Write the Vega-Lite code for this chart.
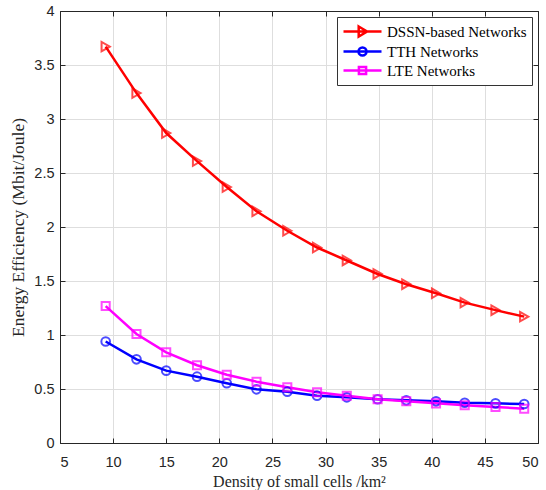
{
  "$schema": "https://vega.github.io/schema/vega-lite/v6.json",
  "autosize": "none",
  "width": 478,
  "height": 432,
  "padding": {"left": 60, "top": 11, "right": 8, "bottom": 47},
  "background": "white",
  "config": {
    "view": {"stroke": "#262626", "strokeWidth": 1},
    "axis": {
      "labelFont": "Liberation Sans",
      "labelFontSize": 14.5,
      "labelColor": "#262626",
      "titleFont": "Liberation Serif",
      "titleFontSize": 16,
      "titleFontWeight": "normal",
      "titleColor": "#262626",
      "gridColor": "#dedede",
      "gridWidth": 1,
      "domainColor": "#262626",
      "tickColor": "#262626",
      "tickSize": -5
    }
  },
  "data": {
    "values": [
      {"series": "DSSN-based Networks", "x": 9.3, "y": 3.67},
      {"series": "DSSN-based Networks", "x": 12.2, "y": 3.24},
      {"series": "DSSN-based Networks", "x": 15.0, "y": 2.87},
      {"series": "DSSN-based Networks", "x": 17.9, "y": 2.61},
      {"series": "DSSN-based Networks", "x": 20.7, "y": 2.37},
      {"series": "DSSN-based Networks", "x": 23.5, "y": 2.145},
      {"series": "DSSN-based Networks", "x": 26.4, "y": 1.965},
      {"series": "DSSN-based Networks", "x": 29.2, "y": 1.81},
      {"series": "DSSN-based Networks", "x": 32.0, "y": 1.69},
      {"series": "DSSN-based Networks", "x": 34.9, "y": 1.565},
      {"series": "DSSN-based Networks", "x": 37.6, "y": 1.47},
      {"series": "DSSN-based Networks", "x": 40.4, "y": 1.386},
      {"series": "DSSN-based Networks", "x": 43.1, "y": 1.30},
      {"series": "DSSN-based Networks", "x": 46.0, "y": 1.23},
      {"series": "DSSN-based Networks", "x": 48.7, "y": 1.17},
      {"series": "TTH Networks", "x": 9.3, "y": 0.94},
      {"series": "TTH Networks", "x": 12.2, "y": 0.775},
      {"series": "TTH Networks", "x": 15.0, "y": 0.67},
      {"series": "TTH Networks", "x": 17.9, "y": 0.614},
      {"series": "TTH Networks", "x": 20.7, "y": 0.553},
      {"series": "TTH Networks", "x": 23.5, "y": 0.497},
      {"series": "TTH Networks", "x": 26.4, "y": 0.475},
      {"series": "TTH Networks", "x": 29.2, "y": 0.438},
      {"series": "TTH Networks", "x": 32.0, "y": 0.423},
      {"series": "TTH Networks", "x": 34.9, "y": 0.405},
      {"series": "TTH Networks", "x": 37.6, "y": 0.395},
      {"series": "TTH Networks", "x": 40.4, "y": 0.386},
      {"series": "TTH Networks", "x": 43.1, "y": 0.373},
      {"series": "TTH Networks", "x": 46.0, "y": 0.367},
      {"series": "TTH Networks", "x": 48.7, "y": 0.361},
      {"series": "LTE Networks", "x": 9.3, "y": 1.268},
      {"series": "LTE Networks", "x": 12.2, "y": 1.009},
      {"series": "LTE Networks", "x": 15.0, "y": 0.84},
      {"series": "LTE Networks", "x": 17.9, "y": 0.72},
      {"series": "LTE Networks", "x": 20.7, "y": 0.632},
      {"series": "LTE Networks", "x": 23.5, "y": 0.568},
      {"series": "LTE Networks", "x": 26.4, "y": 0.516},
      {"series": "LTE Networks", "x": 29.2, "y": 0.47},
      {"series": "LTE Networks", "x": 32.0, "y": 0.438},
      {"series": "LTE Networks", "x": 34.9, "y": 0.405},
      {"series": "LTE Networks", "x": 37.6, "y": 0.386},
      {"series": "LTE Networks", "x": 40.4, "y": 0.367},
      {"series": "LTE Networks", "x": 43.1, "y": 0.349},
      {"series": "LTE Networks", "x": 46.0, "y": 0.333},
      {"series": "LTE Networks", "x": 48.7, "y": 0.318}
    ]
  },
  "layer": [
    {
      "mark": {"type": "line", "strokeWidth": 2.5},
      "encoding": {
        "x": {"field": "x", "type": "quantitative", "scale": {"domain": [5, 50], "nice": false, "zero": false},
              "axis": {"values": [5,10,15,20,25,30,35,40,45,50], "title": "Density of small cells /km²", "labelPadding": 17, "titlePadding": 5, "grid": true}},
        "y": {"field": "y", "type": "quantitative", "scale": {"domain": [0, 4], "nice": false},
              "axis": {"values": [0,0.5,1,1.5,2,2.5,3,3.5,4], "format": "~g", "title": "Energy Efficiency (Mbit/Joule)", "titleFontSize": 17.5, "labelPadding": 11, "titlePadding": 6, "grid": true}},
        "color": {"field": "series", "type": "nominal",
                  "scale": {"domain": ["DSSN-based Networks", "TTH Networks", "LTE Networks"], "range": ["#ff0000", "#0000ff", "#ff00ff"]},
                  "legend": {
                    "title": null, "orient": "top-right", "offset": 6,
                    "symbolSize": 256, "symbolStrokeWidth": 2.5,
                    "labelFont": "Liberation Serif", "labelFontSize": 15, "labelColor": "#000",
                    "strokeColor": "#333333", "fillColor": "white", "padding": 5, "rowPadding": 0, "labelOffset": 26,
                    "encode": {"symbols": {"update": {
                      "shape": {"signal": "datum.value === 'DSSN-based Networks' ? 'M-1,0H3.75M0.9,-0.62L1.95,0L0.9,0.62Z' : (datum.value === 'TTH Networks' ? 'M-1,0H3.75M1.875,0A0.5,0.5 0 1,1 0.875,0A0.5,0.5 0 1,1 1.875,0' : 'M-1,0H3.75M0.925,-0.45H1.825V0.45H0.925Z')"},
                      "fill": {"value": "transparent"}
                    }}}
                  }}
      }
    },
    {
      "transform": [{"filter": "datum.series === 'DSSN-based Networks'"}],
      "mark": {"type": "point", "shape": "triangle-right", "filled": false, "strokeWidth": 2, "size": 90, "color": "#ff0000"},
      "encoding": {
        "x": {"field": "x", "type": "quantitative", "axis": null},
        "y": {"field": "y", "type": "quantitative", "axis": null}
      }
    },
    {
      "transform": [{"filter": "datum.series === 'TTH Networks'"}],
      "mark": {"type": "point", "shape": "circle", "filled": false, "strokeWidth": 2, "size": 75, "color": "#0000ff"},
      "encoding": {
        "x": {"field": "x", "type": "quantitative", "axis": null},
        "y": {"field": "y", "type": "quantitative", "axis": null}
      }
    },
    {
      "transform": [{"filter": "datum.series === 'LTE Networks'"}],
      "mark": {"type": "point", "shape": "square", "filled": false, "strokeWidth": 2, "size": 65, "color": "#ff00ff"},
      "encoding": {
        "x": {"field": "x", "type": "quantitative", "axis": null},
        "y": {"field": "y", "type": "quantitative", "axis": null}
      }
    },
    {
      "mark": {"type": "point", "opacity": 0},
      "encoding": {
        "x": {"field": "x", "type": "quantitative", "axis": {"orient": "top", "values": [5,10,15,20,25,30,35,40,45,50], "labels": false, "title": null, "grid": false}},
        "y": {"field": "y", "type": "quantitative", "axis": {"orient": "right", "values": [0,0.5,1,1.5,2,2.5,3,3.5,4], "labels": false, "title": null, "grid": false}}
      }
    }
  ],
  "resolve": {"axis": {"x": "independent", "y": "independent"}}
}
